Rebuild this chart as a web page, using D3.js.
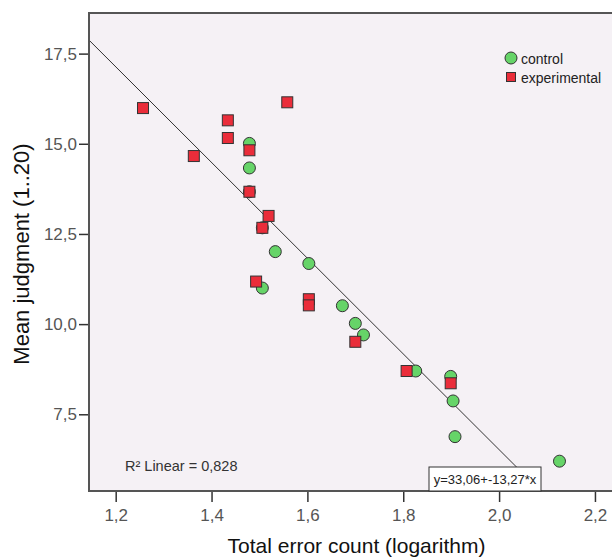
<!DOCTYPE html>
<html>
<head>
<meta charset="utf-8">
<title>Mean judgment vs total error count</title>
<style>
  body { margin: 0; background: #fff; }
  svg { display: block; font-family: "Liberation Sans", Arial, sans-serif; }
</style>
</head>
<body>
<script src="https://d3js.org/d3.v7.min.js"></script>
<script>
// data
var controlX = [1.479, 1.479, 1.479, 1.506, 1.533, 1.603, 1.506, 1.673, 1.700, 1.717, 1.826, 1.899, 1.904, 1.908, 2.126];
var controlY = [15.01, 14.33, 13.67, 12.67, 12.01, 11.68, 11.00, 10.51, 10.02, 9.70, 8.70, 8.55, 7.87, 6.88, 6.20];
var experimentalX = [1.257, 1.434, 1.434, 1.363, 1.558, 1.479, 1.479, 1.519, 1.506, 1.493, 1.603, 1.603, 1.700, 1.807, 1.899];
var experimentalY = [15.99, 15.65, 15.16, 14.66, 16.15, 14.82, 13.67, 13.00, 12.67, 11.18, 10.69, 10.52, 9.51, 8.70, 8.36];
var xTicks = [1.2, 1.4, 1.6, 1.8, 2.0, 2.2];
var yTicks = [7.5, 10.0, 12.5, 15.0, 17.5];
var groups = ["control", "experimental"];
var fitIntercept = 33.06, fitSlope = -13.27;
var rSquared = "0,828";

var W = 612, H = 558;
var pLeft = 89, pRight = 640, pTop = 13, pBottom = 491;
var green = "#66d468", red = "#ea2d3a";

var x = d3.scaleLinear().domain([1.1443, 2.294]).range([pLeft, pRight]);
var y = d3.scaleLinear().domain([5.373, 18.626]).range([pBottom, pTop]);
var comma = function(v) { return d3.format(".1f")(v).replace(".", ","); };
var comma2 = function(v) { return d3.format(".2f")(v).replace(".", ",").replace("−", "-"); };

var svg = d3.select("body").append("svg").attr("width", W).attr("height", H);

svg.append("rect").attr("x", pLeft).attr("y", pTop)
  .attr("width", pRight - pLeft).attr("height", pBottom - pTop)
  .attr("fill", "#f5f1f5");

svg.append("clipPath").attr("id", "plot")
  .append("rect").attr("x", pLeft).attr("y", pTop)
  .attr("width", pRight - pLeft).attr("height", pBottom - pTop);

// axes
var xAxis = svg.append("g").attr("transform", "translate(0," + pBottom + ")")
  .call(d3.axisBottom(x).tickValues(xTicks).tickFormat(comma).tickSize(11).tickPadding(7));
var yAxis = svg.append("g").attr("transform", "translate(" + pLeft + ",0)")
  .call(d3.axisLeft(y).tickValues(yTicks).tickFormat(comma).tickSize(10).tickPadding(2));
[xAxis, yAxis].forEach(function(a) {
  a.select(".domain").remove();
  a.selectAll(".tick line").attr("stroke", "#333").attr("stroke-width", 1.5);
  a.selectAll(".tick text").attr("fill", "#555").style("font-size", "17px");
});

// fit line
var xEnd = (y.domain()[0] - fitIntercept) / fitSlope;
svg.append("path").attr("clip-path", "url(#plot)")
  .datum([x.domain()[0], xEnd])
  .attr("fill", "none").attr("stroke", "#333").attr("stroke-width", 1)
  .attr("d", d3.line().x(function(d) { return x(d); }).y(function(d) { return y(fitIntercept + fitSlope * d); }));

// points
var g = svg.append("g").attr("clip-path", "url(#plot)");
g.selectAll("circle.control").data(d3.range(controlX.length)).enter().append("circle")
  .attr("cx", function(i) { return x(controlX[i]); })
  .attr("cy", function(i) { return y(controlY[i]); })
  .attr("r", 6).attr("fill", green).attr("stroke", "#333").attr("stroke-width", 1);
g.selectAll("rect.exp").data(d3.range(experimentalX.length)).enter().append("rect")
  .attr("x", function(i) { return x(experimentalX[i]) - 5.5; })
  .attr("y", function(i) { return y(experimentalY[i]) - 5.5; })
  .attr("width", 11).attr("height", 11)
  .attr("fill", red).attr("stroke", "#333").attr("stroke-width", 1);

// frame
svg.append("path").attr("fill", "none").attr("stroke", "#555").attr("stroke-width", 2)
  .attr("d", "M" + pRight + "," + pTop + "H" + pLeft + "V" + pBottom + "H" + pRight);

// legend
var leg = svg.append("g").attr("transform", "translate(511,58)");
leg.append("circle").attr("cx", 0).attr("cy", 0).attr("r", 6)
  .attr("fill", green).attr("stroke", "#333");
leg.append("rect").attr("x", -4.5).attr("y", 14.5).attr("width", 9).attr("height", 9)
  .attr("fill", red).attr("stroke", "#333");
leg.selectAll("text").data(groups).enter().append("text")
  .attr("x", 10).attr("y", function(d, i) { return 6 + i * 19; })
  .style("font-size", "14px").attr("fill", "#222").text(function(d) { return d; });

// annotations
svg.append("text").attr("x", 125).attr("y", 471).style("font-size", "14.5px").attr("fill", "#333")
  .text("R² Linear = " + rSquared);
var box = svg.append("g");
box.append("rect").attr("x", 429).attr("y", 467).attr("width", 112).attr("height", 24)
  .attr("fill", "#fff").attr("stroke", "#333").attr("stroke-width", 1);
box.append("text").attr("x", 485).attr("y", 484).attr("text-anchor", "middle")
  .style("font-size", "13px").attr("fill", "#222")
  .text("y=" + comma2(fitIntercept) + "+" + comma2(fitSlope) + "*x");

// titles
svg.append("text").attr("x", (pLeft + 612) / 2 + 6).attr("y", 553).attr("text-anchor", "middle")
  .style("font-size", "21px").attr("fill", "#111").text("Total error count (logarithm)");
svg.append("text").attr("transform", "translate(29," + ((pTop + pBottom) / 2 + 2) + ") rotate(-90)")
  .attr("text-anchor", "middle").style("font-size", "22px").attr("fill", "#111")
  .text("Mean judgment (1..20)");
</script>
</body>
</html>
